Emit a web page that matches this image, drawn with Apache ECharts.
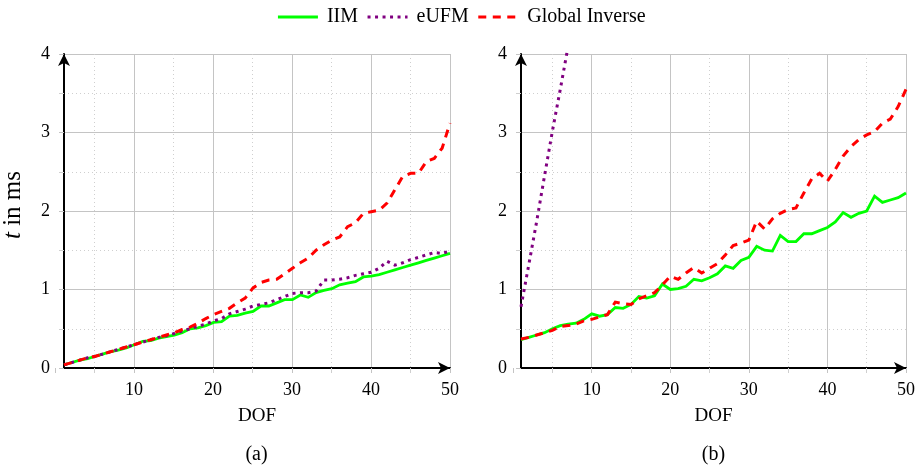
<!DOCTYPE html>
<html>
<head>
<meta charset="utf-8">
<script src="https://cdn.jsdelivr.net/npm/echarts@6/dist/echarts.min.js"></script>
<style>
  html, body { margin: 0; padding: 0; background: #fff; }
  #chart { width: 922px; height: 470px; }
</style>
</head>
<body>
<div id="chart"></div>
<script>
// DOF values (x)
const dof = [1,2,3,4,5,6,7,8,9,10,11,12,13,14,15,16,17,18,19,20,21,22,23,24,25,
  26,27,28,29,30,31,32,33,34,35,36,37,38,39,40,41,42,43,44,45,46,47,48,49,50];

// panel (a)
const iimA = [0.04,0.07,0.10,0.12,0.15,0.18,0.21,0.23,0.26,0.30,0.34,0.35,0.38,0.40,0.42,0.45,0.50,0.51,0.54,0.58,
  0.59,0.66,0.67,0.70,0.72,0.79,0.79,0.83,0.87,0.87,0.93,0.90,0.96,0.99,1.01,1.06,1.08,1.10,1.16,1.17,
  1.19,1.22,1.25,1.28,1.31,1.34,1.37,1.40,1.43,1.46];
const eufmA = [0.04,0.07,0.10,0.13,0.15,0.18,0.21,0.24,0.27,0.30,0.33,0.36,0.39,0.41,0.44,0.47,0.50,0.53,0.56,0.60,
  0.63,0.69,0.72,0.75,0.79,0.81,0.83,0.87,0.91,0.95,0.96,0.96,0.98,1.12,1.12,1.13,1.15,1.18,1.20,1.22,
  1.27,1.36,1.31,1.34,1.38,1.41,1.44,1.47,1.46,1.49];
const giA = [0.04,0.07,0.10,0.13,0.15,0.18,0.21,0.24,0.27,0.30,0.33,0.36,0.39,0.42,0.45,0.49,0.52,0.57,0.63,0.68,
  0.72,0.76,0.83,0.89,1.02,1.09,1.12,1.13,1.20,1.27,1.34,1.40,1.50,1.57,1.63,1.67,1.80,1.85,1.97,1.99,
  2.01,2.10,2.27,2.44,2.48,2.48,2.63,2.67,2.80,3.12];

// panel (b)
const iimB = [0.36,0.39,0.42,0.45,0.50,0.54,0.56,0.57,0.62,0.69,0.66,0.68,0.77,0.76,0.81,0.91,0.89,0.92,1.07,1.00,
  1.01,1.04,1.13,1.11,1.15,1.20,1.30,1.27,1.37,1.41,1.55,1.50,1.49,1.69,1.61,1.61,1.71,1.71,1.75,1.79,
  1.86,1.98,1.92,1.97,2.00,2.19,2.11,2.14,2.17,2.23];
const eufmB = [0.78,1.32,1.87,2.45,3.02,3.55,4.10];
const giB = [0.37,0.39,0.42,0.45,0.48,0.53,0.54,0.56,0.60,0.62,0.65,0.68,0.84,0.82,0.81,0.88,0.92,0.96,1.06,1.17,
  1.13,1.21,1.28,1.21,1.27,1.33,1.44,1.56,1.59,1.63,1.87,1.77,1.90,1.97,2.02,2.04,2.23,2.41,2.48,2.38,
  2.53,2.70,2.82,2.91,2.97,3.01,3.12,3.17,3.33,3.55];

const xTicks = [10, 20, 30, 40, 50];
const yTicks = [0, 1, 2, 3, 4];

const FONT = '"Liberation Serif", "DejaVu Serif", serif';
const GRID_GRAY = '#c4c4c4';
const MINOR_GRAY = '#cfcfcf';
const TOP = 54, HEIGHT = 314;
const panels = [
  { left: 63, width: 387, caption: '(a)' },
  { left: 521, width: 385, caption: '(b)' }
];

const grids = [], xAxes = [], yAxes = [], graphics = [];
panels.forEach((p, k) => {
  const unit = p.width / (dof[dof.length - 1] - dof[0]);
  // main grid: data lives here, x from 1
  grids.push({ left: p.left, top: TOP, width: p.width, height: HEIGHT });
  // helper grid: x from 0 so the ticks/grid fall on multiples of 10
  grids.push({ left: p.left - unit, top: TOP, width: p.width + unit, height: HEIGHT });

  xAxes.push({
    type: 'value', gridIndex: 2 * k, min: dof[0], max: dof[dof.length - 1],
    name: 'DOF', nameLocation: 'middle', nameGap: 39,
    nameTextStyle: { fontFamily: FONT, fontSize: 19, color: '#000' },
    axisLine: { show: true, lineStyle: { color: '#000', width: 2 }, symbol: ['none', 'arrow'], symbolSize: [9, 12] },
    axisTick: { show: false }, axisLabel: { show: false }, splitLine: { show: false }
  });
  xAxes.push({
    type: 'value', gridIndex: 2 * k + 1, min: 0, max: 50, interval: 10,
    axisLine: { show: false },
    axisTick: { show: true, length: 5, lineStyle: { color: GRID_GRAY } },
    minorTick: { show: true, splitNumber: 2, length: 5, lineStyle: { color: MINOR_GRAY } },
    axisLabel: {
      show: true, margin: 13, showMinLabel: false,
      fontFamily: FONT, fontSize: 18, color: '#000',
      formatter: v => xTicks.includes(v) ? String(v) : ''
    },
    splitLine: { show: true, showMinLine: false, lineStyle: { color: GRID_GRAY, width: 1 } },
    minorSplitLine: { show: true, lineStyle: { color: MINOR_GRAY, width: 1, type: [1, 3] } }
  });

  yAxes.push({
    type: 'value', gridIndex: 2 * k, min: 0, max: 4, interval: 1,
    name: k === 0 ? '{i|t} in ms' : '', nameLocation: 'middle', nameGap: 38, nameRotate: 90,
    nameTextStyle: {
      fontFamily: FONT, fontSize: 25, color: '#000', padding: [0, 0, 0, 12],
      rich: { i: { fontFamily: FONT, fontSize: 25, fontStyle: 'italic', color: '#000' } }
    },
    axisLine: { show: true, lineStyle: { color: '#000', width: 2 }, symbol: ['none', 'arrow'], symbolSize: [9, 12] },
    axisTick: { show: true, length: 5, lineStyle: { color: GRID_GRAY } },
    minorTick: { show: true, splitNumber: 2, length: 5, lineStyle: { color: MINOR_GRAY } },
    axisLabel: {
      margin: 14, fontFamily: FONT, fontSize: 18, color: '#000',
      formatter: v => yTicks.includes(v) ? String(v) : ''
    },
    splitLine: { show: true, lineStyle: { color: GRID_GRAY, width: 1 } },
    minorSplitLine: { show: true, lineStyle: { color: MINOR_GRAY, width: 1, type: [1, 3] } }
  });
  yAxes.push({ type: 'value', gridIndex: 2 * k + 1, min: 0, max: 4, show: false });

  graphics.push({
    type: 'text', x: p.left + p.width / 2, y: 455,
    style: { text: p.caption, font: '20px ' + FONT, fill: '#000', textAlign: 'center', textVerticalAlign: 'middle' }
  });
});

const pairs = ys => ys.map((v, i) => [dof[i], v]);

function line(name, data, k, color, type, width) {
  return {
    name, type: 'line', xAxisIndex: 2 * k, yAxisIndex: 2 * k,
    data: pairs(data), showSymbol: false, symbol: 'none', clip: true,
    lineStyle: { color, width, type, cap: 'butt', join: 'miter' },
    itemStyle: { color }, z: 3, animation: false
  };
}

const GREEN = '#00ff00', PURPLE = '#800080', RED = '#ff0000';
const DOT = [3, 4.5], DASH = [8, 6.5];

const option = {
  animation: false,
  backgroundColor: '#fff',
  legend: {
    top: 2, left: 'center', itemWidth: 40, itemHeight: 20, itemGap: 8,
    itemStyle: { color: 'transparent', borderColor: 'transparent', borderWidth: 0, opacity: 0 },
    lineStyle: { width: 3 },
    textStyle: { fontFamily: FONT, fontSize: 20, color: '#000', padding: [0, 0, 0, 4] },
    data: ['IIM', 'eUFM', 'Global Inverse']
  },
  grid: grids,
  xAxis: xAxes,
  yAxis: yAxes,
  graphic: graphics,
  series: [
    line('IIM', iimA, 0, GREEN, 'solid', 2.8),
    line('eUFM', eufmA, 0, PURPLE, DOT, 3),
    line('Global Inverse', giA, 0, RED, DASH, 3),
    line('IIM', iimB, 1, GREEN, 'solid', 2.8),
    line('eUFM', eufmB, 1, PURPLE, DOT, 3),
    line('Global Inverse', giB, 1, RED, DASH, 3)
  ]
};

const chart = echarts.init(document.getElementById('chart'), null, { renderer: 'canvas' });
chart.setOption(option);
</script>
</body>
</html>
